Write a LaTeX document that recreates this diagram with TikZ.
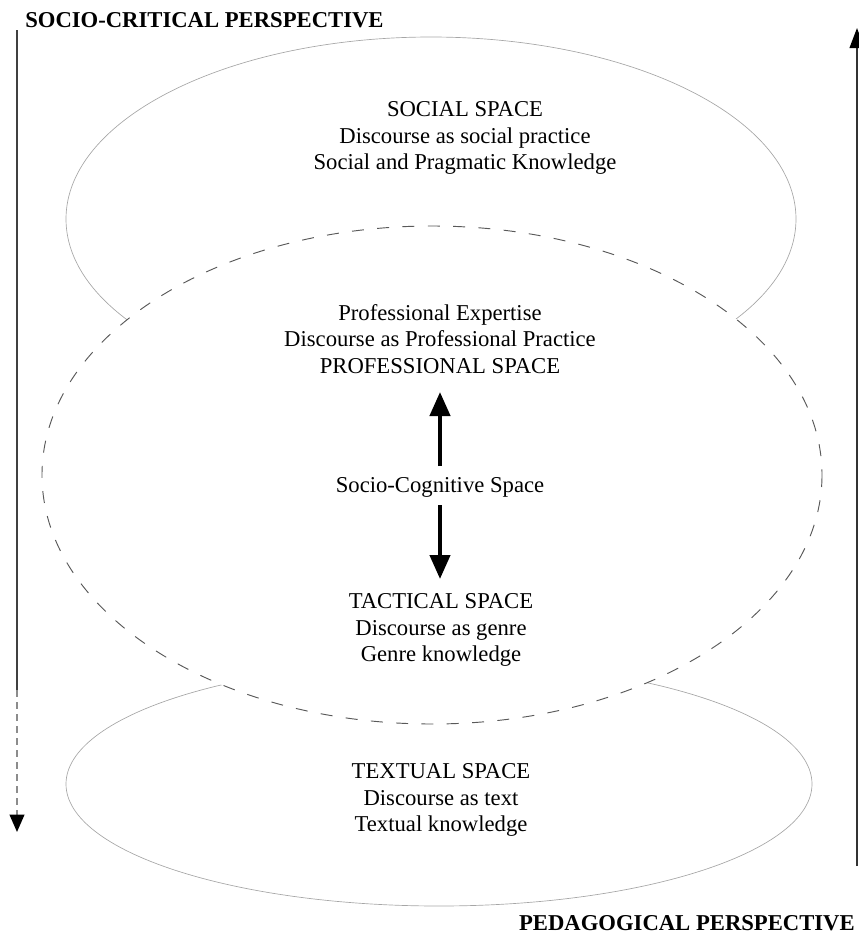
\documentclass[tikz,border=0pt]{standalone}
\usepackage{fontspec}
\setmainfont{Liberation Serif}
\usetikzlibrary{arrows.meta}
\begin{document}
\begin{tikzpicture}[x=0.75pt,y=-0.75pt,
  txt/.style={font=\fontsize{17}{20}\selectfont,align=center,inner sep=0pt},
  lbl/.style={font=\bfseries\fontsize{17}{20}\selectfont,inner sep=0pt},
  outline/.style={draw=black!35,line width=0.5pt},
  dashring/.style={draw=black!65,line width=0.7pt,dash pattern=on 9pt off 10pt,fill=white},
  bigarrow/.style={line width=3.2pt,-{Triangle[width=15pt,length=18pt]}},
  sidearrow/.style={line width=1.4pt}]
\useasboundingbox (0,0) rectangle (859,936);
% ellipses
\draw[outline] (431,219) ellipse [x radius=365,y radius=182];
\draw[outline] (439,784) ellipse [x radius=373,y radius=122];
\draw[dashring] (432,475) ellipse [x radius=390,y radius=249];
% texts
\node[txt] (social) at (465,138) {SOCIAL SPACE\\Discourse as social practice\\Social and Pragmatic Knowledge};
\node[txt] (prof) at (440,339) {Professional Expertise\\Discourse as Professional Practice\\PROFESSIONAL SPACE};
\node[txt] (socio) at (440,487) {Socio-Cognitive Space};
\node[txt] (tact) at (441,630) {TACTICAL SPACE\\Discourse as genre\\Genre knowledge};
\node[txt] (text) at (441,800) {TEXTUAL SPACE\\Discourse as text\\Textual knowledge};
\node[lbl,anchor=west] (crit) at (25,20) {SOCIO-CRITICAL PERSPECTIVE};
\node[lbl,anchor=east] (ped) at (855,923) {PEDAGOGICAL PERSPECTIVE};
% central arrows
\coordinate (upS) at (440,466);
\coordinate (upE) at (440,392);
\coordinate (dnS) at (440,505);
\coordinate (dnE) at (440,579);
\draw[bigarrow] (upS) -- (upE);
\draw[bigarrow] (dnS) -- (dnE);
% side arrows
\coordinate (lA) at (17,30);
\coordinate (lB) at (17,690);
\coordinate (lC) at (17,832);
\draw[sidearrow,black!75] (lA) -- (lB);
\draw[sidearrow,black!45,dash pattern=on 5pt off 4pt,-{Triangle[width=11pt,length=13pt,black]}] (lB) -- (lC);
\coordinate (rA) at (857,866);
\coordinate (rB) at (857,28);
\draw[sidearrow,black!80,-{Triangle[width=11pt,length=15pt,black]}] (rA) -- (rB);
\end{tikzpicture}
\end{document}
